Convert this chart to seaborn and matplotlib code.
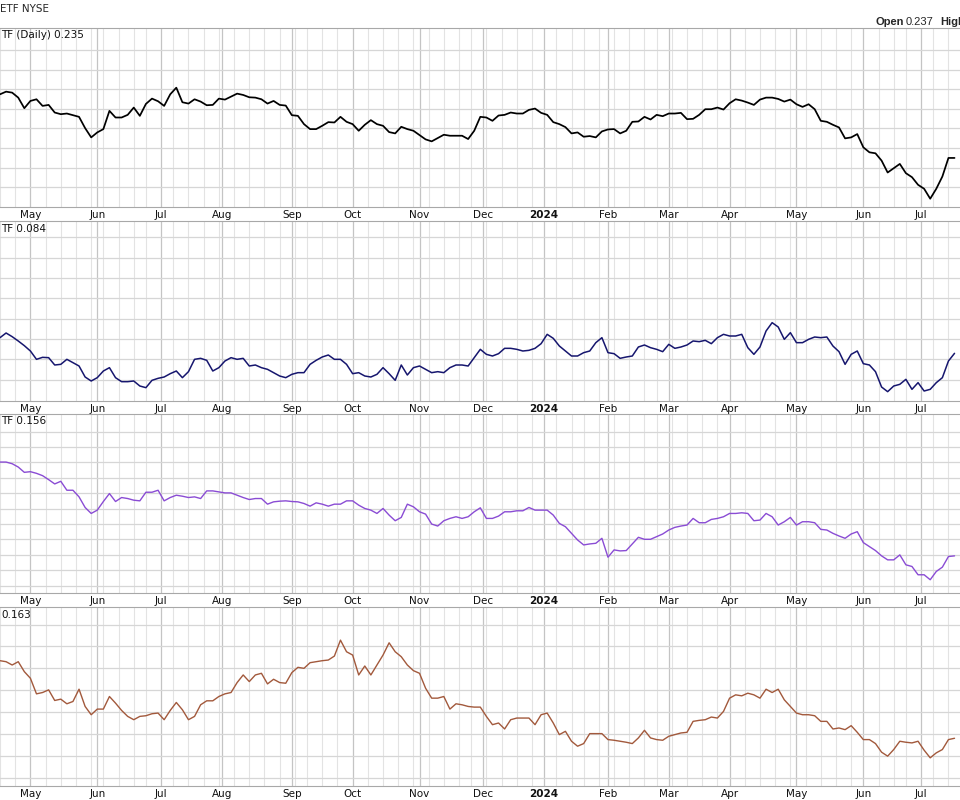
import seaborn as sns
import matplotlib.pyplot as plt
import pandas as pd
import numpy as np

# Calendrier NYSE : jours de bourse du 17/04/2023 au 18/07/2024
holidays = ['2023-05-29', '2023-06-19', '2023-07-04', '2023-09-04', '2023-11-23',
            '2023-12-25', '2024-01-01', '2024-01-15', '2024-02-19', '2024-03-29',
            '2024-05-27', '2024-06-19', '2024-07-04']
days = pd.bdate_range('2023-04-17', '2024-07-18', freq='C', holidays=holidays)

# Clôtures (un point tous les deux jours de bourse)
close_etf = [
    0.2542, 0.2550, 0.2547, 0.2532, 0.2500, 0.2522, 0.2527, 0.2507, 0.2510, 0.2487,
    0.2482, 0.2484, 0.2479, 0.2474, 0.2440, 0.2412, 0.2427, 0.2437, 0.2492, 0.2472,
    0.2472, 0.2480, 0.2502, 0.2477, 0.2513, 0.2529, 0.2521, 0.2507, 0.2542, 0.2562,
    0.2518, 0.2514, 0.2527, 0.2520, 0.2509, 0.2510, 0.2529, 0.2526, 0.2535, 0.2544,
    0.2540, 0.2533, 0.2532, 0.2527, 0.2514, 0.2522, 0.2510, 0.2508, 0.2479, 0.2477,
    0.2452, 0.2437, 0.2437, 0.2447, 0.2458, 0.2457, 0.2474, 0.2459, 0.2452, 0.2432,
    0.2450, 0.2464, 0.2452, 0.2447, 0.2428, 0.2424, 0.2444, 0.2437, 0.2432, 0.2419,
    0.2406, 0.2400, 0.2410, 0.2420, 0.2417, 0.2417, 0.2417, 0.2407, 0.2432, 0.2474,
    0.2472, 0.2462, 0.2478, 0.2480, 0.2487, 0.2484, 0.2484, 0.2495, 0.2499, 0.2486,
    0.2480, 0.2458, 0.2452, 0.2443, 0.2424, 0.2427, 0.2414, 0.2416, 0.2412, 0.2430,
    0.2436, 0.2437, 0.2424, 0.2432, 0.2459, 0.2460, 0.2474, 0.2466, 0.2480, 0.2476,
    0.2484, 0.2484, 0.2486, 0.2467, 0.2468, 0.2480, 0.2497, 0.2497, 0.2502, 0.2496,
    0.2515, 0.2527, 0.2523, 0.2517, 0.2510, 0.2526, 0.2532, 0.2532, 0.2528, 0.2520,
    0.2526, 0.2512, 0.2504, 0.2512, 0.2497, 0.2462, 0.2459, 0.2450, 0.2442, 0.2409,
    0.2412, 0.2422, 0.2382, 0.2367, 0.2364, 0.2342, 0.2306, 0.2319, 0.2332, 0.2304,
    0.2292, 0.2269, 0.2257, 0.2227, 0.2257, 0.2294, 0.2350, 0.2350]

close_2 = [
    0.0887, 0.0901, 0.0890, 0.0877, 0.0863, 0.0847, 0.0822, 0.0828, 0.0827, 0.0805,
    0.0807, 0.0822, 0.0812, 0.0802, 0.0769, 0.0757, 0.0767, 0.0787, 0.0797, 0.0767,
    0.0755, 0.0755, 0.0757, 0.0742, 0.0737, 0.0759, 0.0765, 0.0769, 0.0779, 0.0787,
    0.0767, 0.0785, 0.0822, 0.0825, 0.0819, 0.0787, 0.0797, 0.0817, 0.0827, 0.0822,
    0.0825, 0.0802, 0.0805, 0.0797, 0.0792, 0.0782, 0.0772, 0.0767, 0.0777, 0.0782,
    0.0782, 0.0807, 0.0819, 0.0829, 0.0835, 0.0822, 0.0822, 0.0807, 0.0779, 0.0782,
    0.0772, 0.0769, 0.0777, 0.0797, 0.0779, 0.0759, 0.0805, 0.0775, 0.0797, 0.0802,
    0.0792, 0.0782, 0.0785, 0.0782, 0.0797, 0.0805, 0.0805, 0.0802, 0.0827, 0.0852,
    0.0837, 0.0832, 0.0839, 0.0855, 0.0855, 0.0852, 0.0847, 0.0849, 0.0855, 0.0869,
    0.0897, 0.0885, 0.0862, 0.0847, 0.0832, 0.0832, 0.0842, 0.0847, 0.0872, 0.0887,
    0.0842, 0.0839, 0.0825, 0.0829, 0.0832, 0.0859, 0.0865, 0.0857, 0.0852, 0.0845,
    0.0867, 0.0855, 0.0859, 0.0865, 0.0877, 0.0875, 0.0879, 0.0869, 0.0887, 0.0897,
    0.0892, 0.0892, 0.0897, 0.0857, 0.0837, 0.0859, 0.0907, 0.0932, 0.0919, 0.0882,
    0.0902, 0.0872, 0.0872, 0.0882, 0.0889, 0.0887, 0.0889, 0.0862, 0.0845, 0.0807,
    0.0837, 0.0847, 0.0809, 0.0805, 0.0785, 0.0739, 0.0725, 0.0742, 0.0747, 0.0762,
    0.0732, 0.0752, 0.0727, 0.0732, 0.0752, 0.0767, 0.0817, 0.0840]

close_3 = [
    0.1843, 0.1843, 0.1838, 0.1828, 0.1812, 0.1814, 0.1809, 0.1802, 0.1790, 0.1777,
    0.1785, 0.1758, 0.1758, 0.1738, 0.1706, 0.1688, 0.1698, 0.1724, 0.1748, 0.1724,
    0.1736, 0.1733, 0.1728, 0.1726, 0.1752, 0.1752, 0.1758, 0.1726, 0.1736, 0.1743,
    0.1740, 0.1736, 0.1738, 0.1733, 0.1756, 0.1756, 0.1753, 0.1750, 0.1750, 0.1743,
    0.1736, 0.1730, 0.1733, 0.1733, 0.1716, 0.1723, 0.1725, 0.1726, 0.1724, 0.1723,
    0.1718, 0.1710, 0.1720, 0.1716, 0.1710, 0.1716, 0.1716, 0.1726, 0.1726, 0.1713,
    0.1703, 0.1698, 0.1688, 0.1703, 0.1683, 0.1666, 0.1676, 0.1716, 0.1708, 0.1693,
    0.1686, 0.1656, 0.1650, 0.1666, 0.1673, 0.1678, 0.1673, 0.1678, 0.1693, 0.1705,
    0.1673, 0.1673, 0.1680, 0.1693, 0.1693, 0.1696, 0.1696, 0.1706, 0.1698, 0.1698,
    0.1698, 0.1683, 0.1658, 0.1648, 0.1628, 0.1608, 0.1593, 0.1596, 0.1598, 0.1613,
    0.1556, 0.1578, 0.1575, 0.1576, 0.1596, 0.1616, 0.1610, 0.1610, 0.1618, 0.1626,
    0.1638, 0.1646, 0.1650, 0.1653, 0.1673, 0.1660, 0.1660, 0.1670, 0.1673, 0.1678,
    0.1688, 0.1688, 0.1690, 0.1688, 0.1666, 0.1668, 0.1688, 0.1678, 0.1653, 0.1663,
    0.1676, 0.1653, 0.1663, 0.1663, 0.1660, 0.1640, 0.1638, 0.1628, 0.1620, 0.1613,
    0.1626, 0.1633, 0.1600, 0.1588, 0.1576, 0.1560, 0.1548, 0.1548, 0.1563, 0.1533,
    0.1528, 0.1503, 0.1503, 0.1488, 0.1513, 0.1526, 0.1558, 0.1560]

close_4 = [
    0.1864, 0.1861, 0.1851, 0.1861, 0.1831, 0.1811, 0.1764, 0.1768, 0.1776, 0.1744,
    0.1748, 0.1734, 0.1741, 0.1778, 0.1726, 0.1701, 0.1718, 0.1718, 0.1756, 0.1736,
    0.1714, 0.1696, 0.1686, 0.1696, 0.1698, 0.1704, 0.1706, 0.1686, 0.1714, 0.1738,
    0.1716, 0.1686, 0.1696, 0.1731, 0.1743, 0.1743, 0.1756, 0.1764, 0.1768, 0.1798,
    0.1821, 0.1801, 0.1821, 0.1826, 0.1794, 0.1808, 0.1798, 0.1796, 0.1828, 0.1844,
    0.1841, 0.1858, 0.1861, 0.1864, 0.1866, 0.1878, 0.1926, 0.1891, 0.1881, 0.1821,
    0.1848, 0.1821, 0.1851, 0.1881, 0.1918, 0.1891, 0.1876, 0.1851, 0.1834, 0.1826,
    0.1781, 0.1751, 0.1751, 0.1756, 0.1718, 0.1734, 0.1731, 0.1726, 0.1724, 0.1724,
    0.1696, 0.1671, 0.1676, 0.1658, 0.1686, 0.1691, 0.1691, 0.1691, 0.1671, 0.1701,
    0.1706, 0.1676, 0.1641, 0.1651, 0.1621, 0.1606, 0.1614, 0.1644, 0.1644, 0.1644,
    0.1626, 0.1624, 0.1621, 0.1618, 0.1614, 0.1631, 0.1654, 0.1631, 0.1626, 0.1624,
    0.1636, 0.1641, 0.1646, 0.1648, 0.1681, 0.1684, 0.1686, 0.1694, 0.1691, 0.1711,
    0.1751, 0.1761, 0.1758, 0.1766, 0.1761, 0.1751, 0.1778, 0.1768, 0.1778, 0.1746,
    0.1726, 0.1706, 0.1701, 0.1701, 0.1698, 0.1681, 0.1681, 0.1658, 0.1661, 0.1656,
    0.1668, 0.1648, 0.1626, 0.1626, 0.1614, 0.1588, 0.1576, 0.1596, 0.1621, 0.1618,
    0.1616, 0.1621, 0.1594, 0.1571, 0.1586, 0.1596, 0.1626, 0.1630]

open_price = 0.237

# Tableau : position du jour de bourse + clôtures
df = pd.DataFrame({'day': np.arange(len(days))[::2],
                   'etf': close_etf, 's2': close_2, 's3': close_3, 's4': close_4})

# Graduations : début de chaque mois (majeures), début de chaque semaine (mineures)
month_pos = [0] + [i for i in range(1, len(days)) if days[i].month != days[i - 1].month]
month_pos = month_pos[1:]
month_lab = ['2024' if days[i].month == 1 else days[i].strftime('%b') for i in month_pos]
week_pos = [0] + [i for i in range(1, len(days))
                  if days[i].isocalendar().week != days[i - 1].isocalendar().week]

sns.set_style('white')
plt.rcParams['font.family'] = ['DejaVu Sans']

fig = plt.figure(figsize=(9.6, 8), dpi=100)

# (colonne, couleur, épaisseur, texte, limites y, lignes horizontales, position px)
panels = [
    ('etf', 'black', 1.25, 'TF (Daily) {:.3f}', (0.2202, 0.2742),
     np.arange(0.2262, 0.2700, 0.0059), (28, 207)),
    ('s2', '#16166e', 1.1, 'TF {:.3f}', (0.0697, 0.1237),
     np.arange(0.0761, 0.1200, 0.0061), (221, 401)),
    ('s3', '#8a4cd4', 1.0, 'TF {:.3f}', (0.1448, 0.1988),
     np.arange(0.1470, 0.1950, 0.00465), (414, 593)),
    ('s4', '#a2593c', 1.0, '{:.3f}', (0.1486, 0.2026),
     np.arange(0.1511, 0.1990, 0.0066), (607, 786)),
]

for n, (col, color, lw, fmt, ylim, hgrid, (top, bottom)) in enumerate(panels):
    ax = fig.add_axes([0, 1 - bottom / 800, 1, (bottom - top) / 800])
    sns.lineplot(data=df, x='day', y=col, ax=ax, color=color, linewidth=lw)

    ax.set_xlim(0, 315.8)
    ax.set_ylim(*ylim)
    ax.set_yticks(hgrid)
    ax.set_xticks(month_pos)
    ax.set_xticklabels(month_lab)
    ax.set_xticks(week_pos, minor=True)

    ax.grid(which='minor', axis='x', color='#e3e3e3', linewidth=0.8)
    ax.grid(which='major', axis='x', color='#c4c4c4', linewidth=0.9)
    ax.grid(which='major', axis='y', color='#d6d6d6', linewidth=0.9)
    ax.set_axisbelow(True)

    ax.tick_params(axis='y', left=False, labelleft=False)
    ax.tick_params(axis='x', which='both', length=0, pad=2.2, labelsize=7.5,
                   labelcolor='#111111')
    for lab in ax.get_xticklabels():
        if lab.get_text() == '2024':
            lab.set_fontweight('bold')

    ax.set_xlabel('')
    ax.set_ylabel('')
    for s in ['left', 'right']:
        ax.spines[s].set_visible(False)
    ax.spines['bottom'].set_color('#a8a8a8')
    ax.spines['bottom'].set_linestyle((0, (1, 1)))
    ax.spines['top'].set_color('#a8a8a8')
    if n > 0:
        ax.spines['top'].set_linestyle((0, (1, 1)))

    last = df[col].iloc[-1]
    ax.text(0.001, 1 - 7.5 / (bottom - top), fmt.format(last), transform=ax.transAxes,
            va='center', ha='left', fontsize=7.5, color='#111111')

# En-tête
fig.text(0.0, 1 - 9.5 / 800, 'ETF NYSE', fontsize=7.5, va='center', ha='left')
fig.text(875 / 960, 1 - 22 / 800, 'Open', fontsize=8, fontweight='bold',
         family='Liberation Sans', va='center', ha='left')
fig.text(906 / 960, 1 - 22 / 800, '{:.3f}'.format(open_price), fontsize=8,
         family='Liberation Sans', va='center', ha='left')
fig.text(940 / 960, 1 - 22 / 800, 'High', fontsize=8, fontweight='bold',
         family='Liberation Sans', va='center', ha='left')

plt.savefig('out.png', dpi=100)
